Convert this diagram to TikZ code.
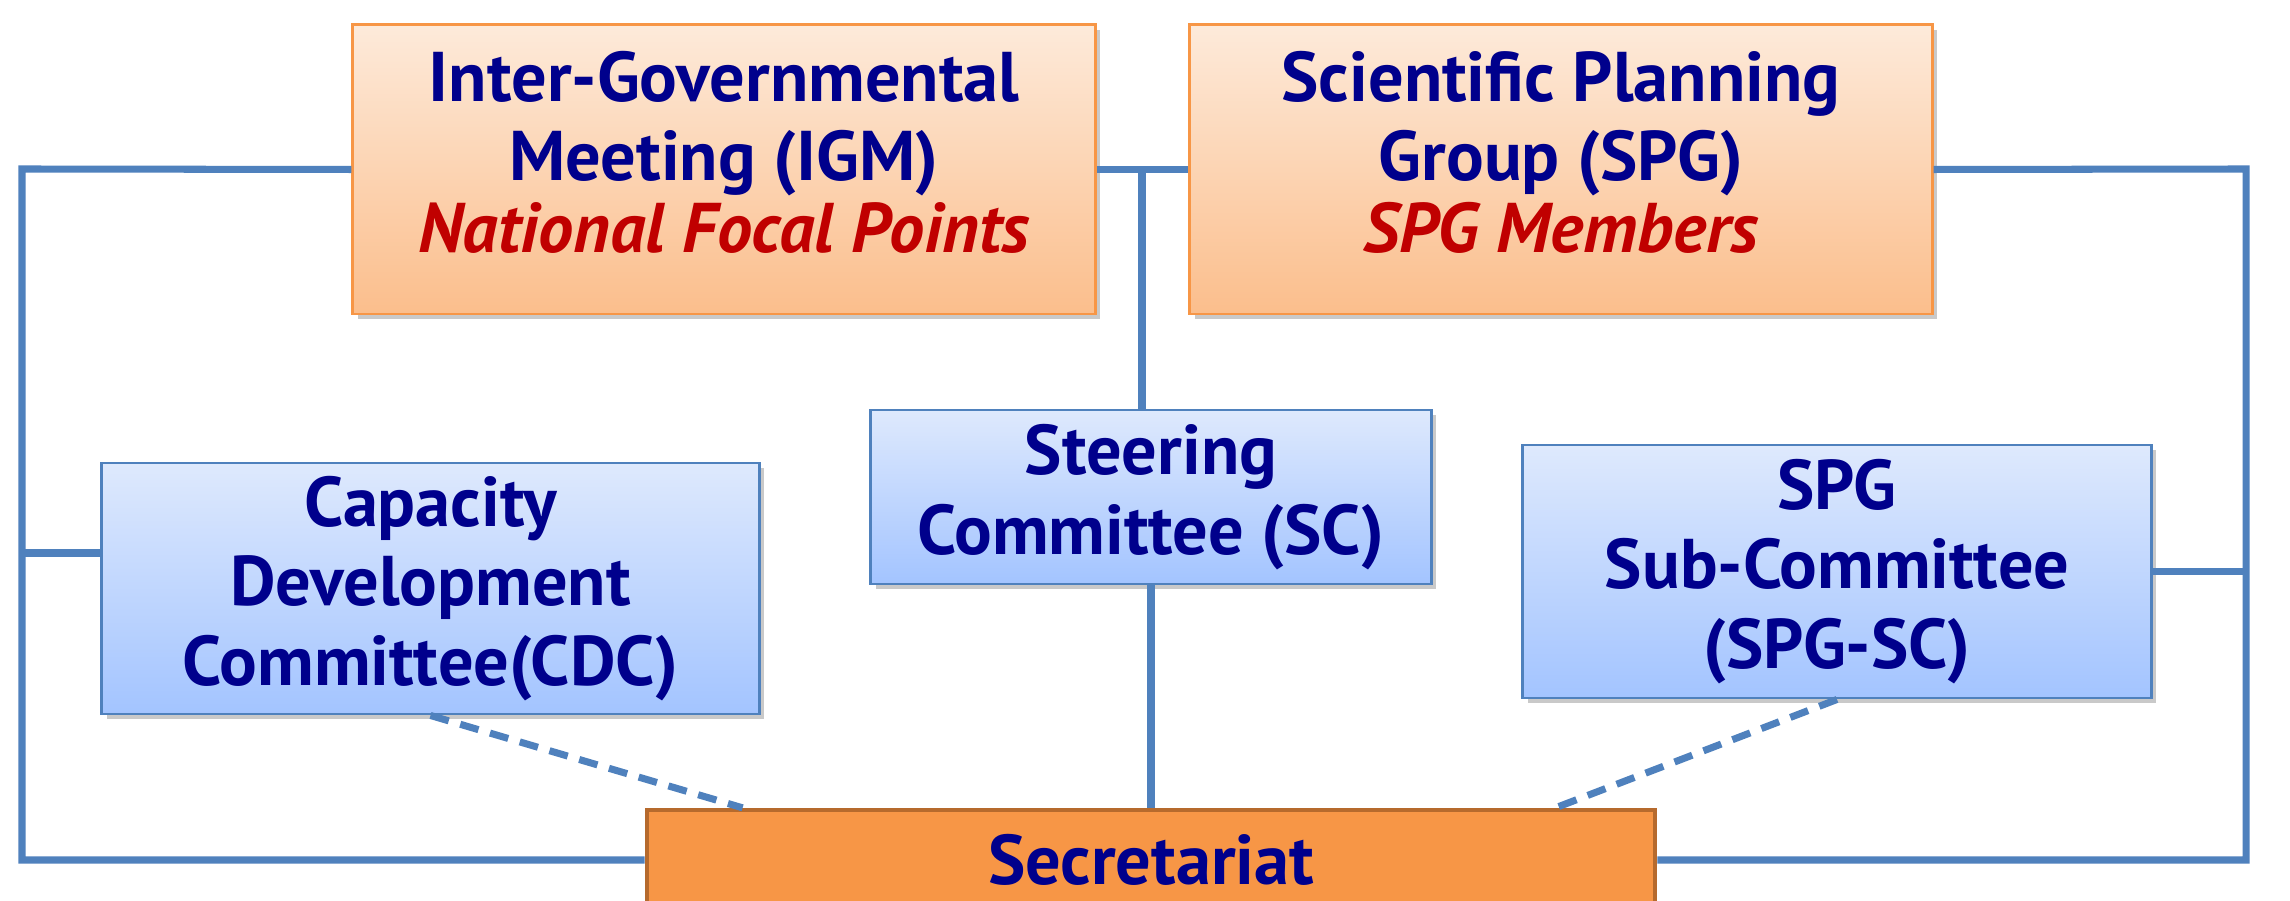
\documentclass[tikz,border=0pt]{standalone}
\usepackage{fontspec}
\setmainfont{PT Sans}
\usetikzlibrary{calc,shadows}
\definecolor{navytext}{RGB}{0,0,140}
\definecolor{redtext}{RGB}{192,0,0}
\definecolor{linkblue}{RGB}{79,129,189}
\definecolor{peachtop}{RGB}{253,234,218}
\definecolor{peachbot}{RGB}{251,190,140}
\definecolor{peachline}{RGB}{247,150,70}
\definecolor{skytop}{RGB}{222,233,253}
\definecolor{skybot}{RGB}{163,196,255}
\definecolor{secfill}{RGB}{247,150,70}
\definecolor{secline}{RGB}{182,106,45}

\newcommand{\liftup}{\rule[-0.36cm]{0pt}{0.1pt}}

\tikzset{
	boxbase/.style={rectangle, align=center, inner sep=0pt, font=\fontsize{20}{22.6}\selectfont\bfseries, text=navytext,
		drop shadow={shadow xshift=0.05cm, shadow yshift=-0.05cm, opacity=0.35, fill=black!60}},
	orangebox/.style={boxbase, draw=peachline, line width=0.8pt, top color=peachtop, bottom color=peachbot},
	bluebox/.style={boxbase, draw=linkblue, line width=0.8pt, top color=skytop, bottom color=skybot},
	secbox/.style={rectangle, align=center, draw=secline, line width=1.2pt, fill=secfill, text=navytext, font=\fontsize{20}{22.6}\selectfont\bfseries},
	link/.style={draw=linkblue, line width=2pt},
	dashlink/.style={draw=linkblue, line width=2pt, dash pattern=on 0.19cm off 0.12cm}
}

\begin{document}
\begin{tikzpicture}[x=0.01cm, y=-0.01cm]
		\clip (0,0) rectangle (2290,901);
		\fill[white] (0,0) rectangle (2290,901);
		
		% corners of the outer loop
		\coordinate (tl) at (22,169);
		\coordinate (tr) at (2246,169);
		\coordinate (cdcj) at (22,553);
		\coordinate (sctop) at (1142,169);
		
		% top boxes
		\node[orangebox, minimum width=7.42cm, minimum height=2.89cm] (IGM) at (724,169.5)
			{Inter-Governmental\\Meeting (IGM)\\[-0.08cm]{\color{redtext}\itshape National Focal Points}\liftup};
		\node[orangebox, minimum width=7.42cm, minimum height=2.89cm] (SPG) at (1561,169.5)
			{Scientific Planning\\Group (SPG)\\[-0.08cm]{\color{redtext}\itshape SPG Members}\liftup};
		
		% committees
		\node[bluebox, minimum width=6.57cm, minimum height=2.51cm] (CDC) at (430.5,588.5)
			{Capacity\\Development\\Committee(CDC)};
		\node[bluebox, minimum width=5.60cm, minimum height=1.74cm] (SC) at (1151,497)
			{Steering\\Committee (SC)};
		\node[bluebox, minimum width=6.28cm, minimum height=2.53cm] (SPGSC) at (1837,571.5)
			{SPG\\Sub-Committee\\(SPG-SC)};
		
		% secretariat
		\node[secbox, minimum width=10.08cm, minimum height=1.0cm] (Sec) at (1151,860) {Secretariat};
		
		% solid links
		\draw[link] (IGM.west) -- (tl) |- (Sec.west);
		\draw[link] (SPG.east) -- (tr) |- (Sec.east);
		\draw[link] (IGM.east) -- (SPG.west);
		\draw[link] (sctop) -- (sctop |- SC.north);
		\draw[link] (SC.south) -- (Sec.north);
		\draw[link] (cdcj) -- (cdcj -| CDC.west);
		\draw[link] (SPGSC.east) -- (SPGSC.east -| tr);
		
		% dashed links
		\draw[dashlink] (CDC.south) -- ($(Sec.north west)+(98,0)$);
		\draw[dashlink] (SPGSC.south) -- ($(Sec.north east)+(-102,0)$);
	\end{tikzpicture}
\end{document}
